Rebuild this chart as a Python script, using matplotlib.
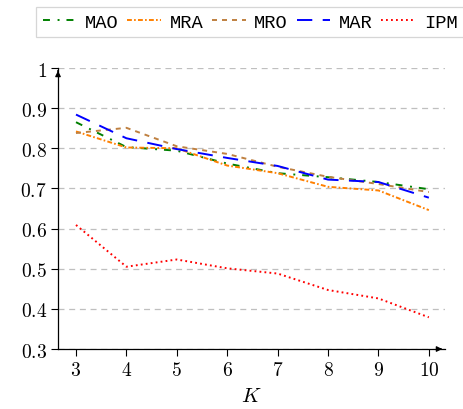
import matplotlib
matplotlib.use("Agg")
import matplotlib.pyplot as plt

# values
K = [3, 4, 5, 6, 7, 8, 9, 10]
mao = [0.865, 0.803, 0.794, 0.762, 0.738, 0.728, 0.716, 0.698]
mra = [0.842, 0.802, 0.800, 0.757, 0.738, 0.704, 0.695, 0.646]
mro = [0.838, 0.851, 0.805, 0.786, 0.754, 0.729, 0.711, 0.691]
mar = [0.884, 0.825, 0.798, 0.776, 0.756, 0.722, 0.716, 0.677]
ipm = [0.609, 0.505, 0.523, 0.501, 0.488, 0.447, 0.426, 0.379]

y_ticks = [0.3, 0.4, 0.5, 0.6, 0.7, 0.8, 0.9, 1.0]
y_labels = ["$0.3$", "$0.4$", "$0.5$", "$0.6$", "$0.7$", "$0.8$", "$0.9$", "$1$"]
x_labels = [f"${k}$" for k in K]

plt.rcParams["mathtext.fontset"] = "cm"
plt.rcParams["lines.scale_dashes"] = False

fig = plt.figure(figsize=(4.64, 4.10), dpi=100)
ax = fig.add_axes([0.125, 0.1463, 0.834, 0.6854])

lw = 1.4
series = [
    ("MAO", mao, "#008000", (0, (5, 5.5, 1.4, 5))),
    ("MRA", mra, "#FF8000", (0, (3.5, 1.6, 1.2, 1.6))),
    ("MRO", mro, "#BF8040", (0, (3.6, 3.6))),
    ("MAR", mar, "#0000FF", (0, (11, 7.5))),
    ("IPM", ipm, "#FF0000", (0, (1.3, 2.3))),
]
for name, vals, col, ls in series:
    ax.plot(K, vals, color=col, linestyle=ls, linewidth=lw, label=name,
            dash_capstyle="butt")

ax.set_xlim(2.643, 10.32)
ax.set_ylim(0.3, 1.0)
ax.set_xticks(K)
ax.set_xticklabels(x_labels, fontsize=14)
ax.set_yticks(y_ticks)
ax.set_yticklabels(y_labels, fontsize=14)
ax.tick_params(direction="out", length=5, width=0.8, pad=3)

ax.yaxis.grid(True, color="#bfbfbf", linestyle=(0, (4.3, 3.4)), linewidth=0.9)
ax.set_axisbelow(True)

for s in ["top", "right"]:
    ax.spines[s].set_visible(False)
for s in ["left", "bottom"]:
    ax.spines[s].set_linewidth(0.9)

# axis arrows
ax.annotate("", xy=(1.0, 0), xytext=(0.98, 0), xycoords="axes fraction",
            arrowprops=dict(arrowstyle="-|>", color="black", lw=0.9,
                            mutation_scale=8))
ax.annotate("", xy=(0, 1.0), xytext=(0, 0.98), xycoords="axes fraction",
            arrowprops=dict(arrowstyle="-|>", color="black", lw=0.9,
                            mutation_scale=8))

ax.set_xlabel("$K$", fontsize=15, labelpad=4)

leg = ax.legend(loc="lower left", bbox_to_anchor=(-0.057, 1.11, 1.106, 0.107),
                ncol=5, frameon=True, fancybox=False, edgecolor="#cccccc",
                prop={"family": "Liberation Mono", "size": 13.5},
                handlelength=1.8, handletextpad=0.45, columnspacing=0.4,
                borderpad=0.35, borderaxespad=0, mode="expand")
leg.get_frame().set_linewidth(0.9)

fig.savefig("out.png", dpi=100)
